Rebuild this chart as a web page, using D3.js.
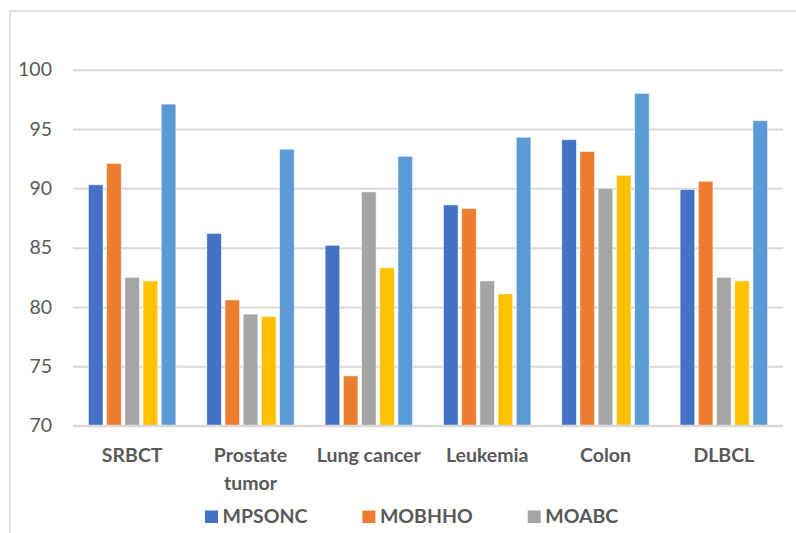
<!DOCTYPE html>
<html>
<head>
<meta charset="utf-8">
<script src="https://cdn.jsdelivr.net/npm/d3@7"></script>
<style>
  html, body { margin: 0; padding: 0; background: #fff; }
  svg { display: block; }
  text { font-family: Lato, "Open Sans", sans-serif; fill: #595959; }
</style>
</head>
<body>
<svg id="chart" width="796" height="533"></svg>
<script>
// Classification accuracy (%) per dataset and method
const categories = ["SRBCT", "Prostate tumor", "Lung cancer", "Leukemia", "Colon", "DLBCL"];
const seriesNames = ["MPSONC", "MOBHHO", "MOABC", "Series 4", "Series 5"];
const seriesColors = ["#4472C4", "#ED7D31", "#A5A5A5", "#FFC000", "#5B9BD5"];
const mpsonc = [90.3, 86.2, 85.2, 88.6, 94.1, 89.9];
const mobhho = [92.1, 80.6, 74.2, 88.3, 93.1, 90.6];
const moabc  = [82.5, 79.4, 89.7, 82.2, 90.0, 82.5];
const series4 = [82.2, 79.2, 83.3, 81.1, 91.1, 82.2];
const series5 = [97.1, 93.3, 92.7, 94.3, 98.0, 95.7];
const yTicks = [70, 75, 80, 85, 90, 95, 100];
const legendShown = ["MPSONC", "MOBHHO", "MOABC"];

const seriesValues = [mpsonc, mobhho, moabc, series4, series5];

const svg = d3.select("#chart");
const W = 796, H = 533;
const plot = { left: 73, right: 783, top: 69.7, bottom: 425.7 };

// outer frame
svg.append("rect")
  .attr("x", 10).attr("y", 11)
  .attr("width", W + 20).attr("height", H + 20)
  .attr("fill", "none").attr("stroke", "#d9d9d9").attr("stroke-width", 1.5);

const y = d3.scaleLinear().domain([70, 100]).range([plot.bottom, plot.top]);
const x0 = d3.scaleBand().domain(categories).range([plot.left, plot.right]).padding(0);
const x1 = d3.scaleBand().domain(seriesNames).range([0, x0.bandwidth()])
  .paddingInner(0.2).paddingOuter(0.85);

// gridlines and y labels
const yAxis = d3.axisLeft(y).tickValues(yTicks).tickSize(-(plot.right - plot.left)).tickPadding(21);
const gy = svg.append("g").attr("transform", `translate(${plot.left},0)`).call(yAxis);
gy.select(".domain").remove();
gy.selectAll(".tick line").attr("stroke", "#d9d9d9").attr("stroke-width", 2);
gy.selectAll(".tick text")
  .style("font-size", "19.5px").style("fill", "#595959").attr("fill", "#595959");

// bars
const groups = svg.append("g").selectAll("g")
  .data(categories).join("g")
  .attr("transform", d => `translate(${x0(d)},0)`);

groups.selectAll("rect")
  .data((c, i) => seriesNames.map((s, k) => ({ s, k, v: seriesValues[k][i] })))
  .join("rect")
  .attr("x", d => x1(d.s))
  .attr("width", x1.bandwidth())
  .attr("y", d => y(d.v))
  .attr("height", d => y(70) - y(d.v))
  .attr("fill", d => seriesColors[d.k])
  .attr("stroke", "#ffffff").attr("stroke-opacity", 0.6).attr("stroke-width", 0.8);

// baseline redrawn over bars
svg.append("line")
  .attr("x1", plot.left).attr("x2", plot.right)
  .attr("y1", y(70)).attr("y2", y(70))
  .attr("stroke", "#d9d9d9").attr("stroke-width", 2);

// category labels (wrapped like the source: "Prostate tumor" on two lines)
const wrapped = { "Prostate tumor": ["Prostate", "tumor"] };
categories.forEach(c => {
  const lines = wrapped[c] || [c];
  const t = svg.append("text")
    .attr("x", x0(c) + x0.bandwidth() / 2)
    .attr("y", 462)
    .attr("text-anchor", "middle")
    .style("font-size", "19.5px").style("font-weight", "bold");
  lines.forEach((ln, i) => {
    t.append("tspan").attr("x", x0(c) + x0.bandwidth() / 2)
      .attr("dy", i === 0 ? 0 : 28).text(ln);
  });
});

// legend
let lx = 205;
legendShown.forEach(name => {
  const k = seriesNames.indexOf(name);
  svg.append("rect").attr("x", lx).attr("y", 510.5).attr("width", 13).attr("height", 12.5)
    .attr("fill", seriesColors[k]);
  const t = svg.append("text").attr("x", lx + 17.5).attr("y", 523)
    .style("font-size", "19.5px").style("font-weight", "bold").text(name);
  lx += 17.5 + t.node().getComputedTextLength() + 55;
});
</script>
</body>
</html>
